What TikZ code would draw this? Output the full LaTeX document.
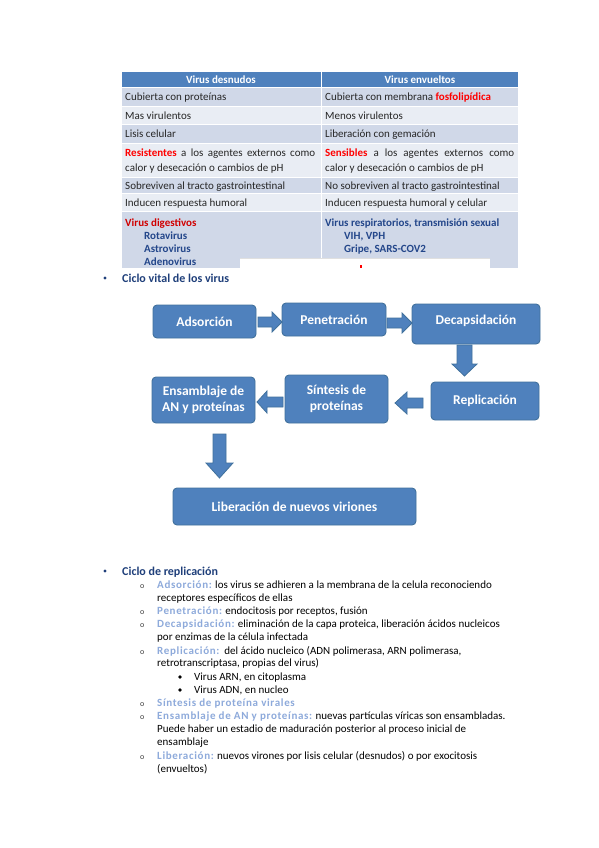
\documentclass[tikz,border=0pt]{standalone}
\usepackage{fontspec}
\setmainfont{Carlito}
\newfontfamily\lblfont[LetterSpace=6]{Carlito}
\definecolor{hdr}{HTML}{4F81BD}
\definecolor{rowA}{HTML}{D0D8E8}
\definecolor{rowB}{HTML}{E9EDF4}
\definecolor{bord}{HTML}{41719C}
\definecolor{ttxt}{HTML}{262626}
\definecolor{dblue}{HTML}{23468A}
\definecolor{head}{HTML}{1F3F7A}
\definecolor{lbl}{HTML}{8EAADB}
\definecolor{dred}{HTML}{D00000}
\newcommand\lb[1]{{\lblfont\bfseries\color{lbl}#1}}
\tikzset{
  cell/.style={anchor=base west, inner sep=0, text=ttxt, font=\fontsize{11}{13}\selectfont},
  hcell/.style={anchor=base, inner sep=0, text=white, font=\bfseries\fontsize{11}{13}\selectfont},
  box/.style={rounded corners=4pt, fill=hdr, draw=bord, line width=0.9pt, text=white,
    font=\bfseries\fontsize{13.5}{16.5}\selectfont, align=center, inner sep=0},
  barrow/.style={fill=hdr, draw=bord, line width=0.8pt, line join=miter},
  body/.style={anchor=base west, inner sep=0, text=black, font=\fontsize{11}{12}\selectfont},
  obul/.style={anchor=base west, inner sep=0, text=black!75, font=\fontsize{8}{10}\selectfont},
  hd/.style={anchor=base west, inner sep=0, text=head, font=\bfseries\fontsize{12}{14}\selectfont}
}
\begin{document}
\begin{tikzpicture}[x=1pt,y=-1pt]
\useasboundingbox (0,0) rectangle (599,848);
\fill[white] (0,0) rectangle (599,848);
% ---------- table ----------
\fill[hdr] (122,72) rectangle (518,88);
\fill[rowA] (122,88) rectangle (518,107);
\fill[rowB] (122,107) rectangle (518,125);
\fill[rowA] (122,125) rectangle (518,143);
\fill[rowB] (122,143) rectangle (518,177);
\fill[rowA] (122,177) rectangle (518,193);
\fill[rowB] (122,193) rectangle (518,211);
\fill[rowA] (122,211) rectangle (518,268);
\foreach \yy in {88,107,125,143,177,193,211} \draw[white,line width=1pt] (122,\yy) -- (518,\yy);
\draw[white,line width=1pt] (321,72) -- (321,268);
\node[hcell] (h1) at (221,84) {Virus desnudos};
\node[hcell] (h2) at (420,84) {Virus envueltos};
\node[cell] (l1) at (125,101) {Cubierta con proteínas};
\node[cell] (r1) at (325,101) {Cubierta con membrana \textcolor{red}{\textbf{fosfolipídica}}};
\node[cell] (l2) at (125,120) {Mas virulentos};
\node[cell] (r2) at (325,120) {Menos virulentos};
\node[cell] (l3) at (125,138) {Lisis celular};
\node[cell] (r3) at (325,138) {Liberación con gemación};
\node[cell] (l4a) at (125,157) {\makebox[190pt][s]{\textcolor{red}{\textbf{Resistentes}} a los agentes externos como}};
\node[cell] (l4b) at (125,171) {calor y desecación o cambios de pH};
\node[cell] (r4a) at (325,157) {\makebox[189pt][s]{\textcolor{red}{\textbf{Sensibles}} a los agentes externos como}};
\node[cell] (r4b) at (325,171) {calor y desecación o cambios de pH};
\node[cell] (l5) at (125,189) {Sobreviven al tracto gastrointestinal};
\node[cell] (r5) at (325,189) {No sobreviven al tracto gastrointestinal};
\node[cell] (l6) at (125,206) {Inducen respuesta humoral};
\node[cell] (r6) at (325,206) {Inducen respuesta humoral y celular};
\node[cell, text=dred, font=\bfseries\fontsize{11}{13}\selectfont] (l7a) at (125,226) {Virus digestivos};
\node[cell, text=dblue, font=\bfseries\fontsize{11}{13}\selectfont] (l7b) at (144,239) {Rotavirus};
\node[cell, text=dblue, font=\bfseries\fontsize{11}{13}\selectfont] (l7c) at (144,252) {Astrovirus};
\node[cell, text=dblue, font=\bfseries\fontsize{11}{13}\selectfont] (l7d) at (144,265) {Adenovirus};
\node[cell, text=dblue, font=\bfseries\fontsize{11}{13}\selectfont] (r7a) at (325,226) {Virus respiratorios, transmisión sexual};
\node[cell, text=dblue, font=\bfseries\fontsize{11}{13}\selectfont] (r7b) at (344,239) {VIH, VPH};
\node[cell, text=dblue, font=\bfseries\fontsize{11}{13}\selectfont] (r7c) at (344,252) {Gripe, SARS-COV2};
% overlay
\fill[white] (240,258) rectangle (490,271);
\draw[black!12,line width=0.4pt] (240,258.5) -- (490,258.5);
\fill[red] (360,264.5) rectangle (362,268);
% ---------- ciclo vital ----------
\fill[head] (105,278) circle (1.6);
\node[hd] (cv) at (122,282) {Ciclo vital de los virus};
\node[box, minimum width=103pt, minimum height=33pt] (ads) at (204.5,321.5) {Adsorción};
\node[box, minimum width=104pt, minimum height=33pt] (pen) at (334,319.5) {Penetración};
\node[box, minimum width=128pt, minimum height=40pt, text depth=8pt] (dec) at (476,324) {Decapsidación};
\node[box, minimum width=108pt, minimum height=38pt] (rep) at (485,401) {Replicación};
\node[box, minimum width=103pt, minimum height=48pt] (syn) at (336.5,399) {Síntesis de\\proteínas};
\node[box, minimum width=103pt, minimum height=46pt] (ens) at (203.5,400) {Ensamblaje de\\AN y proteínas};
\node[box, minimum width=243pt, minimum height=37pt] (lib) at (294.5,506.5) {Liberación de nuevos viriones};
% block arrows
\draw[barrow] (258,317) -- (272,317) -- (272,312) -- (282,322) -- (272,332) -- (272,327) -- (258,327) -- cycle;
\draw[barrow] (387,318) -- (402,318) -- (402,313) -- (412,323) -- (402,333) -- (402,328) -- (387,328) -- cycle;
\draw[barrow] (457,345) -- (472,345) -- (472,364) -- (477,364) -- (464.5,376) -- (452,364) -- (457,364) -- cycle;
\draw[barrow] (423,398) -- (407,398) -- (407,392) -- (395,403) -- (407,414) -- (407,408) -- (423,408) -- cycle;
\draw[barrow] (283,397) -- (267,397) -- (267,391) -- (257,402) -- (267,413) -- (267,407) -- (283,407) -- cycle;
\draw[barrow] (213,434) -- (226,434) -- (226,463) -- (233,463) -- (219.5,478) -- (206,463) -- (213,463) -- cycle;
% ---------- ciclo de replicacion ----------
\fill[head] (105,571) circle (1.6);
\node[hd] (cr) at (122,575) {Ciclo de replicación};
\node[obul] (o1) at (140,588) {o};
\node[body] (t1) at (157,588) {\lb{Adsorción:} los virus se adhieren a la membrana de la celula reconociendo};
\node[body] (t2) at (157,601) {receptores específicos de ellas};
\node[obul] (o2) at (140,614) {o};
\node[body] (t3) at (157,614) {\lb{Penetración:} endocitosis por receptos, fusión};
\node[obul] (o3) at (140,627) {o};
\node[body] (t4) at (157,627) {\lb{Decapsidación:} eliminación de la capa proteica, liberación ácidos nucleicos};
\node[body] (t5) at (157,640) {por enzimas de la célula infectada};
\node[obul] (o4) at (140,654) {o};
\node[body] (t6) at (157,654) {\lb{Replicación:}\ \ del ácido nucleico (ADN polimerasa, ARN polimerasa,};
\node[body] (t7) at (157,666) {retrotranscriptasa, propias del virus)};
\fill[black] (180,677) circle (1.8);
\node[body] (t8) at (194,680) {Virus ARN, en citoplasma};
\fill[black] (180,690) circle (1.8);
\node[body] (t9) at (194,693) {Virus ADN, en nucleo};
\node[obul] (o5) at (140,706) {o};
\node[body] (t10) at (157,706) {\lb{Síntesis de proteína virales}};
\node[obul] (o6) at (140,719) {o};
\node[body] (t11) at (157,719) {\lb{Ensamblaje de AN y proteínas:} nuevas partículas víricas son ensambladas.};
\node[body] (t12) at (157,732) {Puede haber un estadio de maduración posterior al proceso inicial de};
\node[body] (t13) at (157,745) {ensamblaje};
\node[obul] (o7) at (140,759) {o};
\node[body] (t14) at (157,759) {\lb{Liberación:} nuevos virones por lisis celular (desnudos) o por exocitosis};
\node[body] (t15) at (157,772) {(envueltos)};
\end{tikzpicture}
\end{document}
